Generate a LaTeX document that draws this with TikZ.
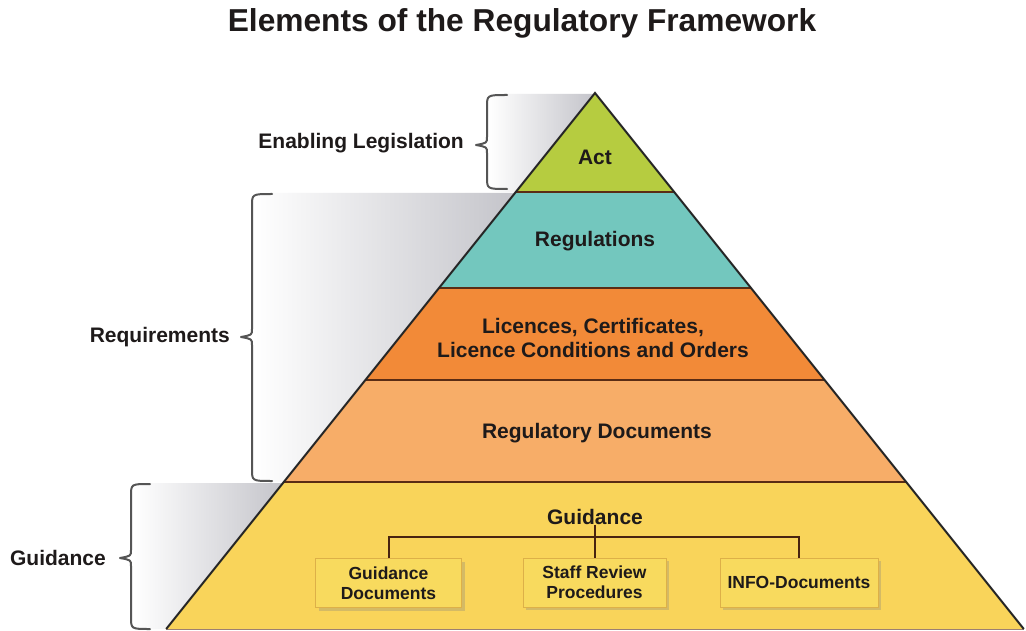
\documentclass[tikz,border=0pt]{standalone}
\usepackage{fontspec}
\setmainfont{Liberation Sans}
\usetikzlibrary{shadows}
\definecolor{actc}{HTML}{B6CC40}
\definecolor{regc}{HTML}{73C7BE}
\definecolor{licc}{HTML}{F28A38}
\definecolor{docc}{HTML}{F7AD68}
\definecolor{guic}{HTML}{F9D45A}
\definecolor{boxc}{HTML}{F8DA5E}
\definecolor{boxe}{HTML}{DDB048}
\definecolor{sepc}{HTML}{5A2C14}
\definecolor{txtc}{HTML}{1E1A1A}
\definecolor{bracec}{HTML}{555555}
\definecolor{shadc}{HTML}{C4C4CA}
\newcommand{\mybrace}[5]{%
  \draw[bracestyle] (#1+#5,#2) .. controls (#1,#2) .. (#1,#2+12) -- (#1,#3-8)
    .. controls (#1,#3-2) .. (#1-11,#3) .. controls (#1,#3+2) .. (#1,#3+8)
    -- (#1,#4-12) .. controls (#1,#4) .. (#1+#5,#4);}
\begin{document}
\begin{tikzpicture}[x=1pt,y=-1pt,
  lbl/.style={text=txtc,font=\fontsize{21}{24}\selectfont\bfseries,inner sep=0pt},
  sidelbl/.style={lbl,anchor=east},
  subbox/.style={draw=boxe,line width=1pt,fill=boxc,text=txtc,align=center,
     font=\fontsize{17.5}{20}\selectfont\bfseries,inner sep=0pt,
     drop shadow={opacity=0.3,shadow xshift=3pt,shadow yshift=-3pt}},
  bracestyle/.style={draw=bracec,line width=2pt,line cap=round,line join=round},
  sepline/.style={draw=sepc,line width=2pt},
  outline/.style={draw=black!85,line width=2pt,line join=miter},
  tree/.style={draw=sepc!80!black,line width=2pt}]
\useasboundingbox (0,0) rectangle (1026,631);
\fill[white] (0,0) rectangle (1026,631);

% title
\node[anchor=base,text=txtc,font=\fontsize{31.7}{36}\selectfont\bfseries,inner sep=0pt]
  (title) at (522,32) {Elements of the Regulatory Framework};

% grey gradient bands behind braces
\shade[left color=white,right color=shadc] (489,94) -- (594,94) -- (515.8,192) -- (489,192) -- cycle;
\shade[left color=white,right color=shadc] (254,193) -- (515.8,193) -- (283.8,482) -- (254,482) -- cycle;
\shade[left color=white,right color=shadc] (133,483) -- (283.8,483) -- (166.2,629) -- (133,629) -- cycle;

% pyramid layers
\fill[actc] (595,93) -- (674.2,192) -- (515.8,192) -- cycle;
\fill[regc] (515.8,192) -- (674.2,192) -- (751,288) -- (439,288) -- cycle;
\fill[licc] (439,288) -- (751,288) -- (824.6,380) -- (365.4,380) -- cycle;
\fill[docc] (365.4,380) -- (824.6,380) -- (906.2,482) -- (283.8,482) -- cycle;
\fill[guic] (283.8,482) -- (906.2,482) -- (1023.8,629) -- (166.2,629) -- cycle;
% separators
\draw[sepline] (515.8,192) -- (674.2,192);
\draw[sepline] (439,288) -- (751,288);
\draw[sepline] (365.4,380) -- (824.6,380);
\draw[sepline] (283.8,482) -- (906.2,482);
\draw[draw=sepc!60,line width=1pt] (166.2,629) -- (1023.8,629);
% outline
\draw[outline] (166.2,629) -- (595,93) -- (1023.8,629);

% braces
\mybrace{487}{95}{145}{189}{20}
\mybrace{252}{194}{337}{481}{20}
\mybrace{131}{484}{558}{629}{19}

% side labels
\node[sidelbl] (lenab) at (464,143) {Enabling Legislation};
\node[sidelbl] (lreq) at (230,337) {Requirements};
\node[sidelbl] (lguid) at (106,558) {Guidance};

% layer labels
\node[lbl] (act) at (595,157) {Act};
\node[lbl] (regs) at (595,241) {Regulations};
\node[lbl,align=center,font=\fontsize{21}{23.5}\selectfont\bfseries] (lic) at (593,338)
  {Licences, Certificates,\\Licence Conditions and Orders};
\node[lbl] (rdocs) at (597,433) {Regulatory Documents};
\node[lbl] (guid) at (595,517) {Guidance};

% guidance sub-boxes
\node[subbox,minimum width=146pt,minimum height=49pt] (gd) at (388.5,583) {Guidance\\Documents};
\node[subbox,minimum width=143pt,minimum height=49pt] (srp) at (594.5,582.5) {Staff Review\\Procedures};
\node[subbox,minimum width=158pt,minimum height=49pt] (info) at (799,582.5) {INFO-Documents};

\coordinate (bar) at (594.5,537);
\draw[tree] (gd.north) |- (bar) -| (info.north);
\draw[tree] (guid.south -| srp.north) -- (srp.north);
\end{tikzpicture}
\end{document}
